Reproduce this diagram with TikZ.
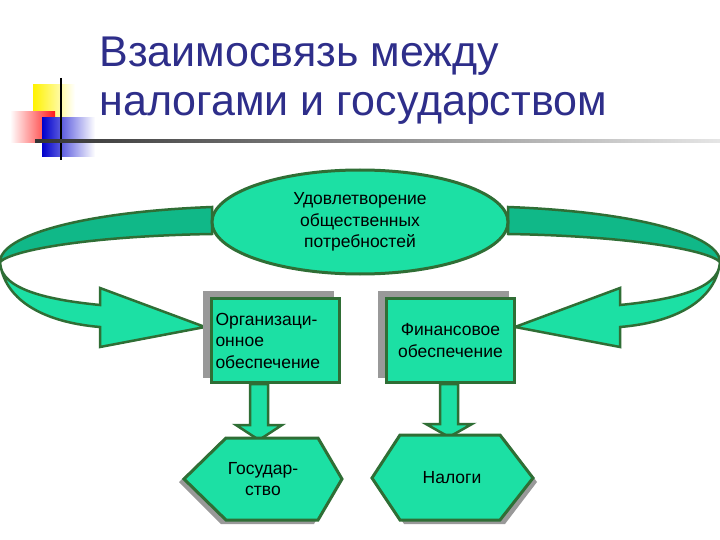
\documentclass[tikz,border=0pt]{standalone}
\usepackage{fontspec}
\setmainfont{Liberation Sans}
\usetikzlibrary{shapes.geometric}
\definecolor{tq}{HTML}{1CE0A4}
\definecolor{tqd}{HTML}{10B888}
\definecolor{bd}{HTML}{2F6E35}
\definecolor{ttl}{HTML}{2E2E8A}
\tikzset{gr/.style={fill=tq,draw=bd,line width=3pt,line join=miter},
 band/.style={draw=bd,line width=2.5pt,line join=miter},
 txt/.style={font=\fontsize{17.5}{21.5}\selectfont,align=center}}
\begin{document}
\begin{tikzpicture}[x=1pt,y=-1pt]
\useasboundingbox (0,0) rectangle (720,540);
\fill[white] (0,0) rectangle (720,540);
% logo
\shade[left color=yellow!90!orange,right color=white] (33,85) rectangle (75,120);
\shade[left color=white,right color=red!90] (10,112) rectangle (55,143);
\shade[left color=blue!80!black,right color=white] (42,118) rectangle (95,157);
\draw[line width=1.5pt] (61,78) -- (61,160);
\shade[left color=black!80,right color=black!10] (35,140) rectangle (720,142.5);
% title
\node[anchor=west,text=ttl,font=\fontsize{43}{49}\selectfont,align=left] (title) at (96,81) {Взаимосвязь между\\налогами и государством};
% curved arrows
\foreach \s/\o in {1/0,-1/720}{
\begin{scope}[shift={(\o,0)},xscale=\s]
\filldraw[band,fill=tqd] (212,207) .. controls (80,212) and (0,236) .. (0,262) .. controls (12,250) and (90,236) .. (212,234) -- cycle;
\filldraw[band,fill=tq] (0,262) .. controls (0,290) and (50,300) .. (100,305) -- (100,288) -- (205,327) -- (100,347) -- (100,327) .. controls (40,322) and (4,298) .. (0,262) -- cycle;
\end{scope}}
% ellipse
\node[gr,ellipse,minimum width=296pt,minimum height=104pt,txt] (top) at (360,222) {Удовлетворение\\общественных\\потребностей};
% boxes
\fill[black!40] (203,291) rectangle (334,378);
\fill[black!40] (378,291) rectangle (509,378);
\node[gr,minimum width=128pt,minimum height=84pt,anchor=north west,align=left,font=\fontsize{17.5}{21.5}\selectfont,text width=120pt,inner sep=3pt] (org) at (210,297) {Организаци-\\онное\\обеспечение\\[4pt]};
\node[gr,minimum width=128pt,minimum height=84pt,anchor=north west,txt] (fin) at (385,297) {Финансовое\\обеспечение};
% down arrows
\filldraw[band,fill=tq] (250,384) -- (268,384) -- (268,425) -- (282,425) -- (259,440) -- (236,425) -- (250,425) -- cycle;
\filldraw[band,fill=tq] (440,384) -- (458,384) -- (458,424) -- (472,424) -- (449,437) -- (426,424) -- (440,424) -- cycle;
% hexagons
\fill[black!40] (179,482) -- (221,441) -- (314,441) -- (338,482) -- (314,524) -- (221,524) -- cycle;
\filldraw[gr] (184,479) -- (226,438) -- (318,438) -- (342,479) -- (318,520) -- (226,520) -- cycle;
\node[txt] (gos) at (263,479) {Государ-\\ство};
\fill[black!40] (377,482) -- (404,439) -- (505,439) -- (537,482) -- (505,524) -- (404,524) -- cycle;
\filldraw[gr] (372,478) -- (400,435) -- (500,435) -- (533,478) -- (500,520) -- (400,520) -- cycle;
\node[txt] (nal) at (452,478) {Налоги};
\end{tikzpicture}
\end{document}
